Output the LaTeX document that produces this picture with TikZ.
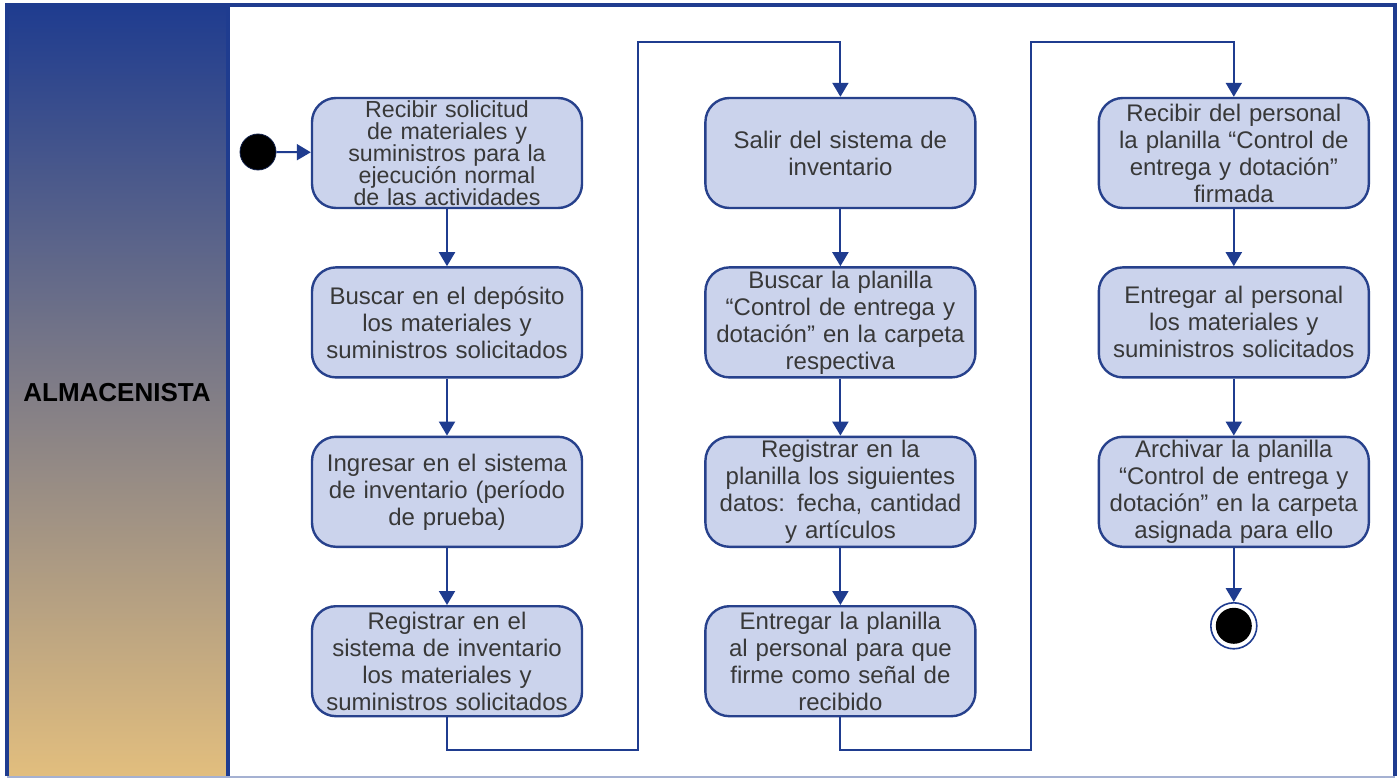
\documentclass[tikz,border=0pt]{standalone}
\usepackage{fontspec}
\setmainfont{Liberation Sans}
\usetikzlibrary{positioning,arrows.meta}
\definecolor{marino}{HTML}{1F3C8F}
\definecolor{borde}{HTML}{27418C}
\definecolor{relleno}{HTML}{CBD3EC}
\definecolor{texto}{HTML}{383838}
\definecolor{arena}{HTML}{E2BE7E}
\definecolor{pizarra}{HTML}{767C94}

\begin{document}
\begin{tikzpicture}[x=0.5pt,y=-0.5pt,
      act/.style={draw=borde, fill=relleno, rounded corners=12pt, line width=1.2pt,
                  minimum width=135pt, minimum height=55pt, text width=133pt, inner sep=1pt,
                  align=center, text=texto, font=\fontsize{12}{13.5}\selectfont},
      f/.style={-{Triangle[length=7pt,width=8pt]}, draw=marino, line width=1pt}]
    \useasboundingbox (0,0) rectangle (1400,780);
    \fill[white] (0,0) rectangle (1400,780);
    \shade[top color=marino, middle color=pizarra, bottom color=arena] (7,6) rectangle (228,776);
    \draw[marino, line width=2pt] (7,776) -- (7,5) -- (1395,5) -- (1395,776);
    \draw[marino, line width=2pt] (228,5) -- (228,776);
    \draw[marino!40, line width=1pt] (7,777) -- (1395,777);
    \node[font=\fontsize{13}{15}\selectfont\bfseries] (rol) at (117,393) {ALMACENISTA};

    \node[act, inner sep=0pt, font=\fontsize{11.6}{11}\selectfont] (c1a) at (447,153) {Recibir solicitud\\ de materiales y\\ suministros para la\\ ejecución normal\\ de las actividades};
    \node[act, below=28.5pt of c1a] (c1b) {Buscar en el depósito\\ los materiales y\\ suministros solicitados};
    \node[act, below=28.5pt of c1b] (c1c) {Ingresar en el sistema\\ de inventario (período\\ de prueba)};
    \node[act, below=28.5pt of c1c] (c1d) {Registrar en el\\ sistema de inventario\\ los materiales y\\ suministros solicitados};

    \node[act, right=60.5pt of c1a] (c2a) {Salir del sistema de\\ inventario};
    \node[act, below=28.5pt of c2a] (c2b) {Buscar la planilla\\ “Control de entrega y\\ dotación” en la carpeta\\ respectiva};
    \node[act, below=28.5pt of c2b] (c2c) {Registrar en la\\ planilla los siguientes\\ datos: fecha, cantidad\\ y artículos};
    \node[act, below=28.5pt of c2c] (c2d) {Entregar la planilla\\ al personal para que\\ firme como señal de\\ recibido};

    \node[act, right=60.5pt of c2a] (c3a) {Recibir del personal\\ la planilla “Control de\\ entrega y dotación”\\ firmada};
    \node[act, below=28.5pt of c3a] (c3b) {Entregar al personal\\ los materiales y\\ suministros solicitados};
    \node[act, below=28.5pt of c3b] (c3c) {Archivar la planilla\\ “Control de entrega y\\ dotación” en la carpeta\\ asignada para ello};

    \node[circle, fill=black, draw=marino!50!black, minimum size=18pt, inner sep=0pt] (ini) at (258,152) {};
    \node[circle, draw=marino, line width=0.8pt, fill=white, minimum size=23pt, inner sep=0pt,
          below=27pt of c3c, path picture={\fill[black] (path picture bounding box.center) circle (9pt);}] (fin) {};

    \coordinate (pie) at (0,750);
    \coordinate (cima1) at (638,42);
    \coordinate (cima2) at (1031,42);

    \draw[f] (ini) -- (c1a);
    \draw[f] (c1a) -- (c1b);
    \draw[f] (c1b) -- (c1c);
    \draw[f] (c1c) -- (c1d);
    \draw[f] (c1d.south) -- (c1d.south |- pie) -| (cima1) -| (c2a.north);
    \draw[f] (c2a) -- (c2b);
    \draw[f] (c2b) -- (c2c);
    \draw[f] (c2c) -- (c2d);
    \draw[f] (c2d.south) -- (c2d.south |- pie) -| (cima2) -| (c3a.north);
    \draw[f] (c3a) -- (c3b);
    \draw[f] (c3b) -- (c3c);
    \draw[f] (c3c) -- (fin);
  \end{tikzpicture}
\end{document}
